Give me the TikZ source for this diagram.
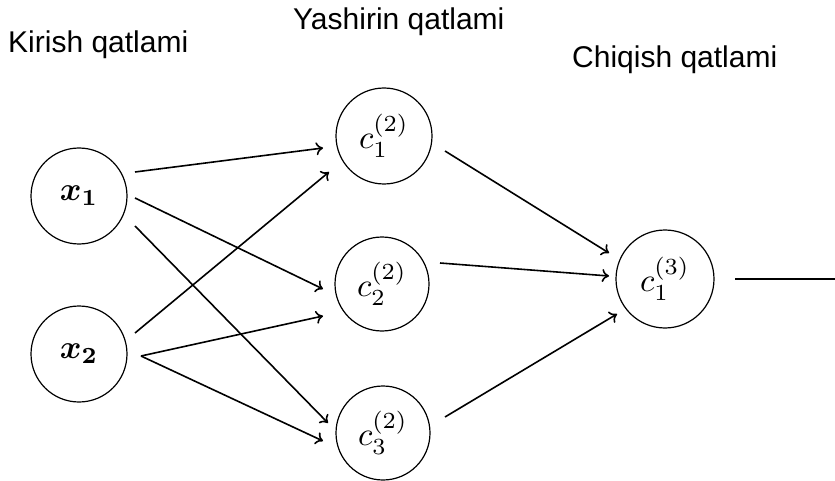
\documentclass[tikz,border=0pt]{standalone}
\usepackage{graphicx}
\usepackage{bm}
\usepackage[no-math]{fontspec}
\setmainfont{Liberation Sans}
\usetikzlibrary{calc,arrows.meta}

\newcommand{\biglabel}[1]{\scalebox{3.3}{$#1$}}

\begin{document}
\begin{tikzpicture}[x=1pt,y=-1pt,
  neuron/.style={circle,draw,line width=1.2pt,inner sep=0pt,minimum size=#1},
  neuron/.default=96pt,
  link/.style={line width=1.6pt,-{To[length=7pt,width=13pt]}},
  layertitle/.style={anchor=base west,inner sep=0pt,font=\fontsize{30}{36}\selectfont}]
\useasboundingbox (0,0) rectangle (835,481);

% layer titles
\node[layertitle] (tin)  at (8,53)   {Kirish qatlami};
\node[layertitle] (thid) at (293,30) {Yashirin qatlami};
\node[layertitle] (tout) at (572,68) {Chiqish qatlami};

% input layer
\node[neuron] (x1) at (79,196) {\biglabel{\bm{x_1}}};
\node[neuron] (x2) at (79,354) {\biglabel{\bm{x_2}}};

% hidden layer
\node[neuron] (h1) at (384,136) {\biglabel{c_1^{(2)}}};
\node[neuron=94pt] (h2) at (382,284) {\biglabel{c_2^{(2)}}};
\node[neuron=94pt] (h3) at (383,433) {\biglabel{c_3^{(2)}}};

% output layer
\node[neuron=98pt] (o) at (665,279) {\biglabel{c_1^{(3)}}};
\coordinate (y) at (835,279);

% input -> hidden
\draw[link] ($(x1)+(56,-24)$) -- ($(h1)+(-61,12)$);
\draw[link] ($(x1)+(56,2)$)   -- ($(h2)+(-59,5)$);
\draw[link] ($(x1)+(56,30)$)  -- ($(h3)+(-55,-10)$);
\draw[link] ($(x2)+(56,-21)$) -- ($(h1)+(-55,36)$);
\draw[link] ($(x2)+(62,2)$)   -- ($(h2)+(-59,32)$);
\draw[link] ($(x2)+(62,2)$)   -- ($(h3)+(-60,8)$);

% hidden -> output
\draw[link] ($(h1)+(61,15)$)  -- ($(o)+(-56,-26)$);
\draw[link] ($(h2)+(58,-21)$) -- ($(o)+(-56,-3)$);
\draw[link] ($(h3)+(62,-16)$) -- ($(o)+(-48,35)$);

% output line
\draw[line width=1.6pt] ($(o)+(70,0)$) -- (y);
\end{tikzpicture}
\end{document}
